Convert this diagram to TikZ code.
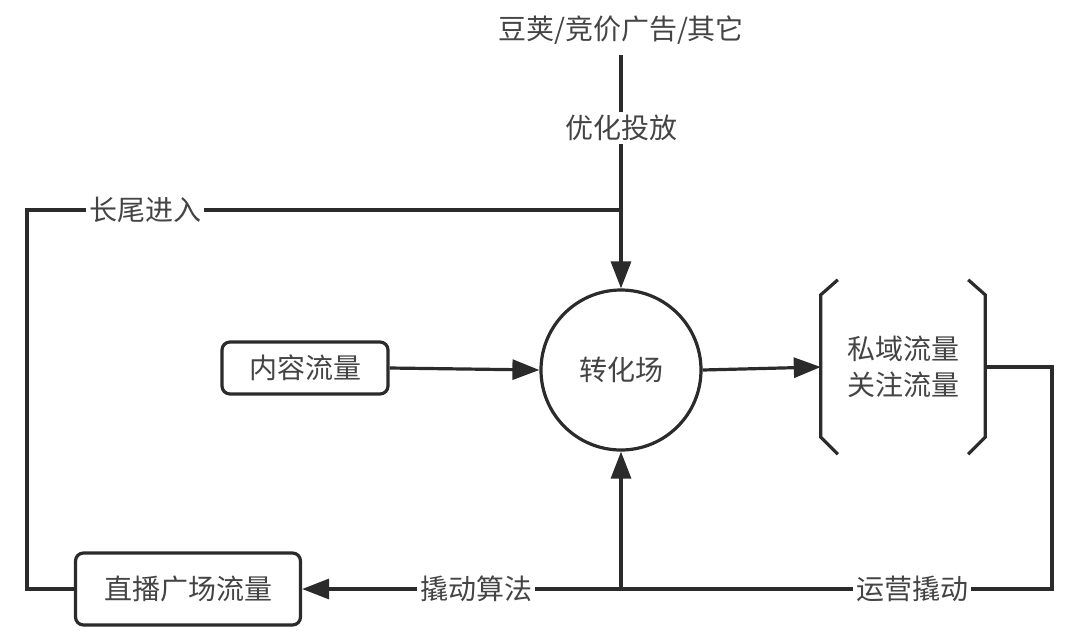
\documentclass[tikz,border=0pt]{standalone}
\usepackage{fontspec}
\setmainfont{Noto Sans CJK SC}
\usetikzlibrary{arrows.meta}
\definecolor{lc}{HTML}{2B2B2B}
\definecolor{tc}{HTML}{444444}
\begin{document}
\begin{tikzpicture}[x=1pt,y=-1pt,
  line/.style={draw=lc, line width=3.2pt},
  arr/.style={line, -{Triangle[length=27pt,width=20pt]}},
  txt/.style={text=tc, font=\fontsize{28}{36}\selectfont},
  lbl/.style={txt, fill=white, inner sep=3pt},
  rbox/.style={txt, draw=lc, line width=3.2pt, rounded corners=8pt, inner sep=0pt, fill=white},
]
\useasboundingbox (0,0) rectangle (1080,633);
% nodes
\node[txt, inner sep=2pt] (src) at (621,30) {豆荚/竞价广告/其它};
\node[lbl] (opt) at (621,128) {优化投放};
\node[txt, circle, draw=lc, line width=3.2pt, minimum size=160pt, inner sep=0pt, fill=white] (hub) at (621,370) {转化场};
\node[rbox, minimum width=166pt, minimum height=52pt] (content) at (305,368) {内容流量};
\node[rbox, minimum width=225pt, minimum height=72pt] (live) at (188,589) {直播广场流量};
\node[txt, minimum width=164pt, minimum height=174pt, align=center, inner sep=0pt] (priv) at (903,367) {私域流量\\关注流量};
% brackets of priv
\draw[line] ([xshift=17pt]priv.north west) -- ([yshift=-15pt]priv.north west)
  -- ([yshift=17pt]priv.south west) -- ([xshift=17pt]priv.south west);
\draw[line] ([xshift=-17pt]priv.north east) -- ([yshift=-15pt]priv.north east)
  -- ([yshift=17pt]priv.south east) -- ([xshift=-17pt]priv.south east);
% junction coordinates
\coordinate (tj) at (621,210);
\coordinate (tl) at (27,210);
\coordinate (bj) at (621,589);
\coordinate (rr) at (1052,367);
% connectors
\draw[line] ([yshift=-8pt]src.south) -- (opt.north);
\draw[arr] (opt.south) -- (hub.north);
\draw[line] (tj) -- (tl) |- (live.west);
\draw[arr] (content.east) -- (hub.west);
\draw[arr] (hub.east) -- (priv.west);
\draw[line] (priv.east) -- (rr) |- (bj);
\draw[arr] (bj) -- (hub.south);
\draw[arr] (bj) -- (live.east);
% labels on connectors
\node[lbl] (tail) at (145,210) {长尾进入};
\node[lbl] (algo) at (476,589) {撬动算法};
\node[lbl] (ops) at (912,589) {运营撬动};
\end{tikzpicture}
\end{document}
